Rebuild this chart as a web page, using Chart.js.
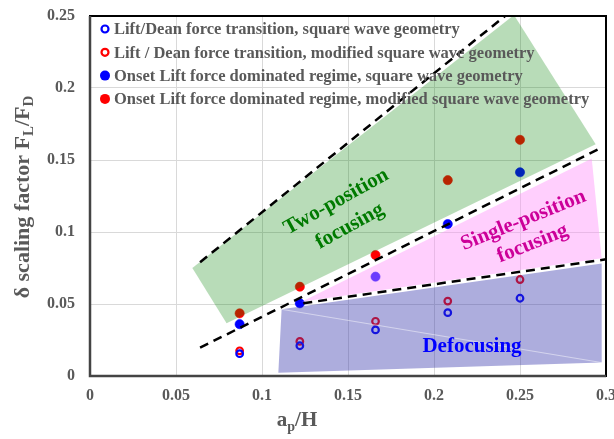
<!DOCTYPE html>
<html>
<head>
<meta charset="utf-8">
<script src="https://cdn.jsdelivr.net/npm/chart.js@4.4.0/dist/chart.umd.min.js"></script>
<style>
  html, body { margin: 0; padding: 0; background: #fff; }
</style>
</head>
<body>
<canvas id="chart" width="614" height="439"></canvas>
<script>
// particle to channel height ratio
const apH = [0.087, 0.122, 0.166, 0.208, 0.25];

// delta scaling factor FL/FD for each series
const liftDeanSquare = [0.0155, 0.021, 0.032, 0.044, 0.054];
const liftDeanModified = [0.0175, 0.024, 0.038, 0.052, 0.067];
const onsetSquare = [0.036, 0.0505, 0.069, 0.1055, 0.1415];
const onsetModified = [0.0435, 0.062, 0.084, 0.136, 0.164];

const seriesLabels = [
  "Lift/Dean force transition, square wave geometry",
  "Lift / Dean force transition, modified square wave geometry",
  "Onset Lift force dominated regime, square wave geometry",
  "Onset Lift force dominated regime, modified square wave geometry"
];

const xTicks = [0, 0.05, 0.1, 0.15, 0.2, 0.25, 0.3];
const yTicks = [0, 0.05, 0.1, 0.15, 0.2, 0.25];

// shaded regimes (x, y corners)
const twoPositionZone = [[0.0595, 0.075], [0.0794, 0.0366], [0.294, 0.161], [0.2465, 0.2507], [0.0595, 0.075]];
const singlePositionZone = [[0.123, 0.0515], [0.2917, 0.151], [0.2975, 0.0817], [0.123, 0.0515]];
const defocusZone = [[0.1114, 0.0463], [0.2975, 0.0782], [0.2975, 0.0093], [0.1095, 0.0023], [0.1114, 0.0463]];
const defocusSeam = [[0.1114, 0.0463], [0.2975, 0.0093]];

// dashed boundaries
const upperBoundary = [[0.064, 0.079], [0.2413, 0.25]];
const middleBoundary = [[0.064, 0.0197], [0.2965, 0.158]];
const lowerBoundary = [[0.124, 0.0505], [0.3, 0.081]];

const FONT = '"Liberation Serif", "Times New Roman", serif';
const GREY = "#595959";

function xy(ys) {
  return apH.map((x, i) => ({ x: x, y: ys[i] }));
}
function pts(list) {
  return list.map(p => ({ x: p[0], y: p[1] }));
}

function pointSet(label, ys, color, open) {
  return {
    label: label,
    data: xy(ys),
    showLine: false,
    pointStyle: "circle",
    pointRadius: open ? 3.3 : 4.6,
    pointBorderWidth: open ? 2.2 : 0.6,
    borderColor: color,
    backgroundColor: open ? "rgba(255,255,255,0)" : color,
    order: 5,
    isMarker: true,
    open: open
  };
}

function zone(list, color) {
  return {
    data: pts(list),
    showLine: true,
    fill: "shape",
    tension: 0,
    pointRadius: 0,
    borderWidth: 0,
    borderColor: "rgba(0,0,0,0)",
    backgroundColor: color,
    order: 3
  };
}

function dashed(list) {
  return {
    data: pts(list),
    showLine: true,
    fill: false,
    pointRadius: 0,
    borderColor: "#000",
    borderWidth: 2.5,
    borderDash: [9, 6],
    order: 1
  };
}

// draws text made of runs: [text, size, yOffset]
function drawRuns(ctx, runs, x, y) {
  let total = 0;
  runs.forEach(r => {
    ctx.font = "bold " + r[1] + "px " + FONT;
    total += ctx.measureText(r[0]).width;
  });
  let cx = x - total / 2;
  ctx.textAlign = "left";
  ctx.textBaseline = "alphabetic";
  runs.forEach(r => {
    ctx.font = "bold " + r[1] + "px " + FONT;
    ctx.fillText(r[0], cx, y + r[2]);
    cx += ctx.measureText(r[0]).width;
  });
}

function rotatedLabel(ctx, lines, x, y, angle, size, color, gap) {
  ctx.save();
  ctx.translate(x, y);
  ctx.rotate(angle * Math.PI / 180);
  ctx.fillStyle = color;
  ctx.font = "bold " + size + "px " + FONT;
  ctx.textAlign = "center";
  ctx.textBaseline = "middle";
  lines.forEach((t, i) => {
    ctx.fillText(t, 0, (i - (lines.length - 1) / 2) * gap);
  });
  ctx.restore();
}

const decorations = {
  id: "decorations",
  afterDraw(chart) {
    const ctx = chart.ctx;
    const a = chart.chartArea;

    // frame
    ctx.save();
    ctx.strokeStyle = "#000";
    ctx.lineWidth = 2;
    ctx.strokeRect(a.left, a.top, a.right - a.left, a.bottom - a.top);
    ctx.strokeStyle = "#444";
    ctx.lineWidth = 2.5;
    ctx.beginPath();
    ctx.moveTo(a.left, a.top);
    ctx.lineTo(a.left, a.bottom);
    ctx.lineTo(a.right, a.bottom);
    ctx.stroke();
    ctx.restore();

    // region labels
    rotatedLabel(ctx, ["Two-position", "focusing"], 343, 214, -29, 21, "#007a00", 28);
    rotatedLabel(ctx, ["Single-position", "focusing"], 528, 232, -22, 21, "#cc0099", 25);
    rotatedLabel(ctx, ["Defocusing"], 472, 347, 0, 21, "#0000ff", 0);

    // legend
    ctx.save();
    chart.data.datasets.filter(d => d.isMarker).forEach((d, i) => {
      const y = 29 + i * 23.3;
      ctx.beginPath();
      if (d.open) {
        ctx.arc(105, y, 3.5, 0, Math.PI * 2);
        ctx.lineWidth = 2.2;
        ctx.strokeStyle = d.borderColor;
        ctx.stroke();
      } else {
        ctx.arc(105, y, 5, 0, Math.PI * 2);
        ctx.fillStyle = d.backgroundColor;
        ctx.fill();
      }
      ctx.fillStyle = GREY;
      ctx.font = "bold 16.5px " + FONT;
      ctx.textAlign = "left";
      ctx.textBaseline = "middle";
      ctx.fillText(d.label, 114, y + 1);
    });
    ctx.restore();

    // axis titles
    ctx.save();
    ctx.fillStyle = GREY;
    drawRuns(ctx, [["a", 21, 0], ["p", 14, 5], ["/H", 21, 0]], 297, 426);
    ctx.translate(29, 197);
    ctx.rotate(-Math.PI / 2);
    drawRuns(ctx, [["\u03b4 scaling factor F", 22, 0], ["L", 15, 4], ["/F", 22, 0], ["D", 15, 4]], 0, 0);
    ctx.restore();
  }
};

new Chart(document.getElementById("chart"), {
  type: "scatter",
  data: {
    datasets: [
      pointSet(seriesLabels[0], liftDeanSquare, "#0000ff", true),
      pointSet(seriesLabels[1], liftDeanModified, "#ff0000", true),
      pointSet(seriesLabels[2], onsetSquare, "#0000ff", false),
      pointSet(seriesLabels[3], onsetModified, "#ff0000", false),
      zone(twoPositionZone, "rgba(0,128,0,0.28)"),
      zone(singlePositionZone, "rgba(255,140,250,0.42)"),
      zone(defocusZone, "rgba(51,51,170,0.4)"),
      {
        data: pts(defocusSeam),
        showLine: true,
        pointRadius: 0,
        borderColor: "rgba(255,255,255,0.6)",
        borderWidth: 0.8,
        order: 2
      },
      dashed(upperBoundary),
      dashed(middleBoundary),
      dashed(lowerBoundary)
    ]
  },
  options: {
    responsive: false,
    animation: false,
    layout: { padding: { top: 16, right: 8, left: 0, bottom: 0 } },
    plugins: {
      legend: { display: false },
      tooltip: { enabled: false }
    },
    scales: {
      x: {
        type: "linear",
        min: 0,
        max: 0.3,
        afterBuildTicks: s => { s.ticks = xTicks.map(v => ({ value: v })); },
        afterFit: s => { s.height = 63; s.paddingLeft = 0; s.paddingRight = 0; },
        grid: { color: "#d9d9d9", drawTicks: false },
        border: { display: false },
        ticks: {
          padding: 10,
          color: GREY,
          font: { family: FONT, size: 16, weight: "bold" },
          callback: v => String(v)
        }
      },
      y: {
        type: "linear",
        min: 0,
        max: 0.25,
        afterBuildTicks: s => { s.ticks = yTicks.map(v => ({ value: v })); },
        afterFit: s => { s.width = 90; s.paddingTop = 0; s.paddingBottom = 0; },
        grid: { color: "#d9d9d9", drawTicks: false },
        border: { display: false },
        ticks: {
          padding: 15,
          color: GREY,
          font: { family: FONT, size: 16, weight: "bold" },
          callback: v => String(v)
        }
      }
    }
  },
  plugins: [decorations]
});
</script>
</body>
</html>
